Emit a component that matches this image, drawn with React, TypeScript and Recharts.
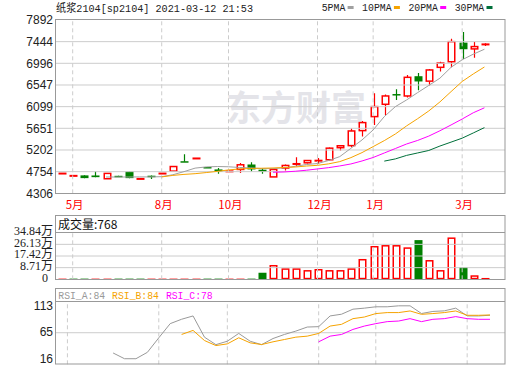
import React from 'react';
import { ComposedChart, Bar, Line, XAxis, YAxis, ReferenceLine } from 'recharts';

// ---------- data (weekly) ----------
const weeks = [0, 1, 2, 3, 4, 5, 6, 7, 8, 9, 10, 11, 12, 13, 14, 15, 16, 17, 18, 19, 20, 21, 22, 23, 24, 25, 26, 27, 28, 29, 30, 31, 32, 33, 34, 35, 36, 37, 38];
const opens = [4715, 4668, 4677, 4675, 4607, 4668, 4760, 4605, 4670, 4715, 4765, 4970, 5028, 4850, 4800, 4755, 4800, 4902, 4794, 4645, 4829, 4914, 4937, 4982, 5000, 5250, 5293, 5603, 5893, 6148, 6360, 6320, 6729, 6627, 6913, 7028, 7424, 7294, 7388];
const highs = [4722, 4674, 4680, 4760, 4720, 4670, 4762, 4612, 4672, 4722, 4862, 5115, 5035, 4852, 4830, 4775, 4931, 4950, 4829, 4802, 4902, 5052, 4995, 5039, 5255, 5295, 5651, 5803, 6375, 6350, 6458, 6755, 6797, 6879, 7028, 7505, 7642, 7437, 7410];
const lows = [4712, 4664, 4618, 4638, 4604, 4652, 4618, 4602, 4600, 4712, 4762, 4960, 5025, 4838, 4710, 4745, 4727, 4758, 4713, 4643, 4780, 4868, 4925, 4916, 4990, 5190, 5258, 5479, 5720, 5927, 6237, 6286, 6436, 6538, 6824, 6913, 7083, 7110, 7355];
const closes = [4720, 4672, 4620, 4640, 4718, 4655, 4620, 4609, 4662, 4720, 4860, 4962, 5032, 4840, 4755, 4765, 4896, 4800, 4750, 4800, 4882, 4918, 4984, 4986, 5240, 5290, 5596, 5769, 6100, 6320, 6350, 6706, 6620, 6858, 7001, 7444, 7287, 7342, 7392];

const ma5 = [null, null, null, null, 4643, 4643, 4643, 4645, 4645, 4650, 4690, 4754, 4827, 4852, 4860, 4855, 4840, 4832, 4817, 4817, 4832, 4865, 4901, 4922, 4985, 5065, 5237, 5410, 5617, 5893, 6100, 6237, 6390, 6538, 6688, 6913, 7069, 7185, 7287];
const ma10 = [null, null, null, null, null, null, null, null, null, 4645, 4676, 4697, 4712, 4735, 4760, 4790, 4810, 4820, 4825, 4830, 4840, 4850, 4870, 4885, 4915, 4962, 5044, 5148, 5272, 5396, 5534, 5700, 5850, 6010, 6197, 6410, 6620, 6776, 6920];
const ma20 = [null, null, null, null, null, null, null, null, null, null, null, null, null, null, null, null, null, null, null, 4742, 4748, 4762, 4783, 4810, 4837, 4872, 4913, 4975, 5047, 5140, 5233, 5326, 5400, 5490, 5600, 5720, 5843, 5973, 6075];
const ma30 = [null, null, null, null, null, null, null, null, null, null, null, null, null, null, null, null, null, null, null, null, null, null, null, null, null, null, null, null, null, 4972, 5018, 5090, 5141, 5192, 5284, 5365, 5447, 5555, 5665];

// volume in 万
const volumes = [0.5, 0.5, 0.5, 0.5, 0.5, 0.5, 0.5, 0.5, 0.5, 0.5, 0.5, 0.5, 0.5, 0.5, 0.5, 0.5, 0.5, 0.5, 4.9, 10.7, 8.2, 8.2, 6.9, 7.7, 6.9, 6.9, 8.2, 15.2, 24.9, 25.6, 25.6, 23.9, 29.3, 14.4, 6.9, 31.3, 9.0, 3.0, 1.0];
const volumeUp = [true, false, false, true, true, false, false, false, true, true, true, true, true, false, false, true, true, false, false, true, true, true, true, true, true, true, true, true, true, true, true, true, false, true, true, true, false, true, true];

const rsiA = [null, null, null, null, null, 27.6, 17, 17, 28.8, 55.6, 81.8, 89.9, 96, 56.8, 43, 49.3, 63.7, 49.3, 43, 54.3, 61.8, 68, 75.5, 76.2, 96, 99.2, 108.5, 110.4, 112.9, 112.9, 114.7, 114.7, 100.5, 104.3, 105.4, 110.4, 96, 96, 97.3];
const rsiB = [null, null, null, null, null, null, null, null, null, null, null, 61.8, 69.3, 50.6, 41.3, 44.4, 55.7, 46.3, 43.2, 48.2, 52.5, 56.8, 58.7, 63.7, 77.3, 80.5, 91, 94, 100.4, 102.2, 102.2, 105.2, 99, 100.4, 102.2, 105.2, 97.2, 97.2, 97.8];
const rsiC = [null, null, null, null, null, null, null, null, null, null, null, null, null, null, null, null, null, null, null, null, null, null, null, 48.2, 58.7, 61.8, 71.1, 77.3, 81.8, 85.5, 86.6, 91, 85.5, 89.8, 91, 94.8, 91, 89.8, 89.8];

const priceTicks = [7892, 7444, 6996, 6547, 6099, 5651, 5202, 4754, 4306];
const volumeTicks = [0, 8.71, 17.42, 26.13, 34.84];
const rsiTicks = [16, 65, 113];
const monthSlots = [1, 9, 15, 23, 28, 36];
const monthNames = ['5月', '8月', '10月', '12月', '1月', '3月'];

const legendNames = ['5PMA', '10PMA', '20PMA', '30PMA'];
const maColors = ['#a0a0a0', '#f5a300', '#ff00ff', '#00703a'];
const rsiNames = ['RSI_A:84', 'RSI_B:84', 'RSI_C:78'];
const rsiColors = ['#999999', '#f5a300', '#ff00ff'];

// ---------- styling ----------
const RED = '#ff0000';
const GREEN = '#008000';
const GRID = '#cccccc';
const BORDER = '#999999';
const FONT_SANS = '"Liberation Sans", Arial, sans-serif';
const FONT_CJK = '"Noto Sans CJK SC", sans-serif';
const FONT_MONO = '"Liberation Mono", "Noto Sans CJK SC", monospace';
const FONT_SERIF = '"Liberation Serif", "Noto Sans CJK SC", serif';

const rows = weeks.map((i) => ({
  i,
  range: [lows[i], highs[i]],
  open: opens[i],
  high: highs[i],
  low: lows[i],
  close: closes[i],
  ma5: ma5[i],
  ma10: ma10[i],
  ma20: ma20[i],
  ma30: ma30[i],
  vol: volumes[i],
  volUp: volumeUp[i],
  rsiA: rsiA[i],
  rsiB: rsiB[i],
  rsiC: rsiC[i],
}));

function Candle(props: any) {
  const { x, y, width, height } = props;
  const p = props.payload;
  if (!p || x == null || y == null) return null;
  const top = Math.min(y, y + height);
  const bot = Math.max(y, y + height);
  const span = p.high - p.low;
  const toY = (v: number) => (span > 0 ? top + ((p.high - v) / span) * (bot - top) : top);
  const cx = Math.round(x + width / 2) + 0.5;
  const up = p.close >= p.open;
  const yo = toY(p.open);
  const yc = toY(p.close);
  const bt = Math.min(yo, yc);
  const bb = Math.max(yo, yc);
  if (up) {
    const bw = 6.5;
    return (
      <g>
        <line x1={cx} x2={cx} y1={top} y2={bt} stroke={RED} strokeWidth={1.2} />
        <line x1={cx} x2={cx} y1={bb} y2={bot} stroke={RED} strokeWidth={1.2} />
        <rect x={cx - bw / 2} y={bt} width={bw} height={Math.max(bb - bt, 0.5)} fill="#ffffff" stroke={RED} strokeWidth={1.5} />
      </g>
    );
  }
  const bw = 8;
  return (
    <g>
      <line x1={cx} x2={cx} y1={top} y2={bot} stroke={GREEN} strokeWidth={1.2} />
      <rect x={cx - bw / 2} y={bt} width={bw} height={Math.max(bb - bt, 1.5)} fill={GREEN} />
    </g>
  );
}

function VolBar(props: any) {
  const { x, y, width, height } = props;
  const p = props.payload;
  if (!p || x == null || y == null) return null;
  const top = Math.min(y, y + height);
  const h = Math.abs(height);
  const cx = Math.round(x + width / 2) + 0.5;
  if (p.volUp) {
    const bw = 6.5;
    return <rect x={cx - bw / 2} y={top + 0.75} width={bw} height={Math.max(h - 1.5, 0.5)} fill="#ffffff" stroke={RED} strokeWidth={1.5} />;
  }
  const bw = 8;
  return <rect x={cx - bw / 2} y={top} width={bw} height={Math.max(h, 1.5)} fill={GREEN} />;
}

function MonthTick(props: any) {
  const { x, y, payload } = props;
  const k = monthSlots.indexOf(payload.value);
  if (k < 0) return null;
  return (
    <text x={x + 2} y={y + 15.5} textAnchor="middle" fontSize={11.5} fill={RED} fontFamily={FONT_CJK}>
      {monthNames[k]}
    </text>
  );
}

function VolTick(props: any) {
  const { x, y, payload } = props;
  const v = payload.value;
  const label = v === 0 ? '0' : `${v.toFixed(2)}万`;
  return (
    <text x={v === 0 ? x - 5 : x} y={y - 2} dy="0.355em" textAnchor="end" fontSize={12} fill="#222" fontFamily={FONT_SERIF}>
      {label}
    </text>
  );
}

function RsiTick(props: any) {
  const { x, y, payload } = props;
  return (
    <text x={x} y={y - 1} dy="0.355em" textAnchor="end" fontSize={12} fill="#222" fontFamily={FONT_SANS}>
      {payload.value}
    </text>
  );
}

function vGrid(prefix: string) {
  return monthSlots.map((s) => (
    <ReferenceLine key={`${prefix}-v-${s}`} x={s} stroke={GRID} strokeDasharray="4 3" strokeWidth={1} />
  ));
}

const axisTick = { fontSize: 12, fill: '#222', fontFamily: FONT_SANS };
const xPad = { left: 0, right: 15 };

export default function App() {
  let lx = 321.7;
  const legendItems = legendNames.map((name, k) => {
    const tl = name.length * 5.9;
    const item = { name, x: lx, tl, sx: lx + tl + 2.3, color: maColors[k] };
    lx = lx + tl + 2.3 + 6 + 8.5;
    return item;
  });
  let rx = 58.3;
  const rsiItems = rsiNames.map((name, k) => {
    const tl = name.length * 5.85;
    const item = { name, x: rx, tl, color: rsiColors[k] };
    rx = rx + tl + 7;
    return item;
  });

  return (
    <div style={{ position: 'absolute', left: 0, top: 0, width: 520, height: 365, background: '#ffffff', overflow: 'hidden' }}>
      <svg style={{ position: 'absolute', left: 0, top: 0 }} width={520} height={365}>
        <text x={226} y={121} fontSize={35} fontWeight="bold" fill="#e4e4e9" fontFamily={FONT_CJK}>东方财富</text>
      </svg>

      <div style={{ position: 'absolute', left: 0, top: 0 }}>
        <ComposedChart width={520} height={215} data={rows} margin={{ top: 20, right: 15, bottom: 1.7, left: 0 }}>
          <XAxis dataKey="i" type="category" interval={0} height={20} padding={xPad} axisLine={false} tickLine={false} tickSize={0} tickMargin={0} tick={<MonthTick />} />
          <YAxis type="number" domain={[4306, 7892]} ticks={priceTicks} interval={0} width={56} axisLine={false} tickLine={false} tickSize={0} tickMargin={3} tick={axisTick} allowDataOverflow />
          {priceTicks.slice(1, -1).map((t) => (
            <ReferenceLine key={`h-${t}`} y={t} stroke={GRID} strokeWidth={1} />
          ))}
          {vGrid('m')}
          <Bar dataKey="range" barSize={8} shape={<Candle />} isAnimationActive={false} />
          <Line dataKey="ma5" stroke={maColors[0]} strokeWidth={1} dot={false} isAnimationActive={false} />
          <Line dataKey="ma10" stroke={maColors[1]} strokeWidth={1} dot={false} isAnimationActive={false} />
          <Line dataKey="ma20" stroke={maColors[2]} strokeWidth={1} dot={false} isAnimationActive={false} />
          <Line dataKey="ma30" stroke={maColors[3]} strokeWidth={1} dot={false} isAnimationActive={false} />
        </ComposedChart>
      </div>

      <div style={{ position: 'absolute', left: 0, top: 215 }}>
        <ComposedChart width={520} height={73} data={rows} margin={{ top: 17.7, right: 15, bottom: 8.7, left: 0 }}>
          <XAxis dataKey="i" type="category" hide padding={xPad} />
          <YAxis type="number" domain={[0, 34.84]} ticks={volumeTicks} interval={0} width={56} axisLine={false} tickLine={false} tickSize={0} tickMargin={3} tick={<VolTick />} allowDataOverflow />
          {volumeTicks.slice(1, -1).map((t) => (
            <ReferenceLine key={`vh-${t}`} y={t} stroke={GRID} strokeWidth={1} />
          ))}
          {vGrid('v')}
          <Bar dataKey="vol" barSize={8} shape={<VolBar />} isAnimationActive={false} />
        </ComposedChart>
      </div>

      <div style={{ position: 'absolute', left: 0, top: 288 }}>
        <ComposedChart width={520} height={77} data={rows} margin={{ top: 13, right: 15, bottom: 0.7, left: 0 }}>
          <XAxis dataKey="i" type="category" hide padding={xPad} />
          <YAxis type="number" domain={[6.7, 123.6]} ticks={rsiTicks} interval={0} width={56} axisLine={false} tickLine={false} tickSize={0} tickMargin={3} tick={<RsiTick />} allowDataOverflow />
          <ReferenceLine y={65} stroke={GRID} strokeWidth={1} />
          {vGrid('r')}
          <Line dataKey="rsiA" stroke={rsiColors[0]} strokeWidth={1} dot={false} isAnimationActive={false} />
          <Line dataKey="rsiB" stroke={rsiColors[1]} strokeWidth={1} dot={false} isAnimationActive={false} />
          <Line dataKey="rsiC" stroke={rsiColors[2]} strokeWidth={1} dot={false} isAnimationActive={false} />
        </ComposedChart>
      </div>

      <svg style={{ position: 'absolute', left: 0, top: 0, pointerEvents: 'none' }} width={520} height={365}>
        {/* panel frames */}
        <rect x={55.5} y={19.5} width={449.5} height={174} fill="none" stroke={BORDER} strokeWidth={1} />
        <rect x={55.5} y={215.5} width={449.5} height={64} fill="none" stroke={BORDER} strokeWidth={1} />
        <line x1={55.5} x2={505} y1={232.5} y2={232.5} stroke={BORDER} strokeWidth={1} />
        <rect x={55.5} y={288.5} width={449.5} height={75.5} fill="none" stroke={BORDER} strokeWidth={1} />
        <line x1={55.5} x2={505} y1={301.5} y2={301.5} stroke={BORDER} strokeWidth={1} />

        {/* title */}
        <text x={56} y={11.5} fontSize={11} fill="#222" fontFamily={FONT_MONO} textLength={197} lengthAdjust="spacingAndGlyphs">
          纸浆2104[sp2104] 2021-03-12 21:53
        </text>

        {/* legend */}
        {legendItems.map((it) => (
          <g key={it.name}>
            <text x={it.x} y={11} fontSize={11} fill="#222" fontFamily={FONT_MONO} textLength={it.tl} lengthAdjust="spacingAndGlyphs">
              {it.name}
            </text>
            <rect x={it.sx} y={6} width={6} height={3} fill={it.color} />
          </g>
        ))}

        {/* volume header */}
        <text x={58} y={228.5} fontSize={12} fill="#111" fontFamily={FONT_CJK}>成交量:768</text>

        {/* RSI header */}
        {rsiItems.map((it) => (
          <text key={it.name} x={it.x} y={298.5} fontSize={11} fill={it.color} fontFamily={FONT_MONO} textLength={it.tl} lengthAdjust="spacingAndGlyphs">
            {it.name}
          </text>
        ))}
      </svg>
    </div>
  );
}
